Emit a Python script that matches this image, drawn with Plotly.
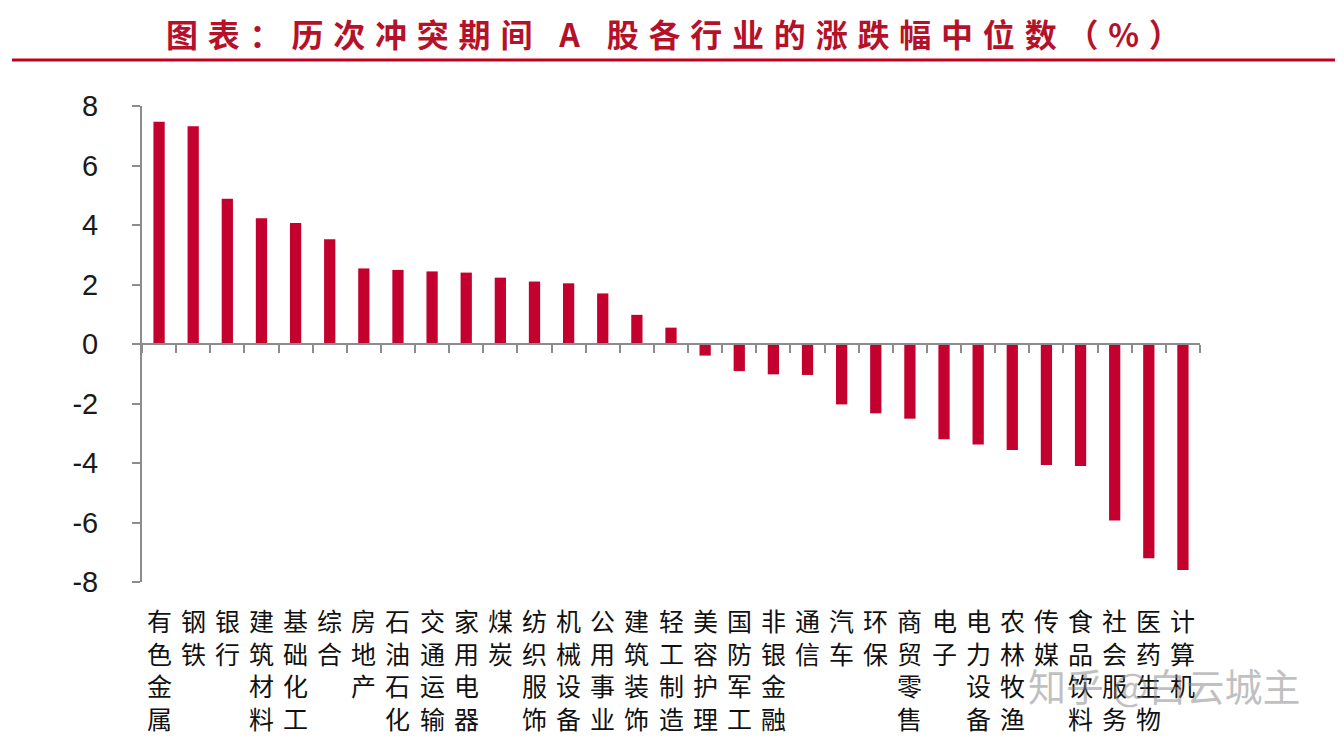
import plotly.graph_objects as go

categories = ["有色金属", "钢铁", "银行", "建筑材料", "基础化工", "综合", "房地产", "石油石化",
              "交通运输", "家用电器", "煤炭", "纺织服饰", "机械设备", "公用事业", "建筑装饰",
              "轻工制造", "美容护理", "国防军工", "非银金融", "通信", "汽车", "环保", "商贸零售",
              "电子", "电力设备", "农林牧渔", "传媒", "食品饮料", "社会服务", "医药生物", "计算机"]
values = [7.47, 7.32, 4.88, 4.23, 4.07, 3.52, 2.54, 2.49, 2.44, 2.40, 2.23, 2.10, 2.04, 1.70,
          0.98, 0.55, -0.39, -0.91, -1.02, -1.04, -2.03, -2.33, -2.51, -3.20, -3.38, -3.56,
          -4.07, -4.10, -5.93, -7.20, -7.60]
y_ticks = [-8, -6, -4, -2, 0, 2, 4, 6, 8]
title_text = "图表：历次冲突期间 <b>A</b> 股各行业的涨跌幅中位数（%）"
watermark = "知乎 @白云城主"

RED = "#C4002F"
AXIS = "#8c8c8c"

# page body has an 8px margin: figure origin sits at screen (8, 8)
OFF = 8
W, H = 1336, 732
ml, mt = 142 - OFF, 106 - OFF
mr = W - (1200 - OFF)
mb = H - (582 - OFF)
plot_w = W - ml - mr
plot_h = H - mt - mb


def px(sx):
    return (sx - OFF - ml) / plot_w


def py(sy):
    return 1 - (sy - OFF - mt) / plot_h


fig = go.Figure()
fig.add_trace(go.Bar(x=categories, y=values, marker=dict(color=RED, line=dict(width=0)),
                     width=0.33, hoverinfo="x+y"))

fig.update_layout(
    width=W, height=H,
    margin=dict(l=ml, r=mr, t=mt, b=mb, pad=0),
    paper_bgcolor="white", plot_bgcolor="white",
    showlegend=False,
    xaxis=dict(
        type="category", anchor="free", position=0.5,
        showline=True, linecolor=AXIS, linewidth=2,
        ticks="outside", tickson="boundaries", ticklen=8, tickwidth=2, tickcolor=AXIS,
        showticklabels=False, showgrid=False, zeroline=False,
    ),
    yaxis=dict(
        range=[-8, 8], tickvals=y_ticks, ticktext=[str(v) for v in y_ticks],
        showline=True, linecolor=AXIS, linewidth=2,
        ticks="outside", ticklen=8, tickwidth=2, tickcolor=AXIS,
        ticklabelstandoff=28,
        tickfont=dict(family="Liberation Sans, Arial", size=29, color="#1a1a1a"),
        showgrid=False, zeroline=False,
    ),
)

for cat in categories:
    fig.add_annotation(
        x=cat, xref="x", y=py(600), yref="paper",
        text="<br>".join(list(cat)), showarrow=False,
        xanchor="center", yanchor="top", align="center",
        font=dict(family="Noto Sans CJK SC", size=25, color="#111111"),
    )

# Title
fig.add_annotation(
    x=px(164), y=py(33), xref="paper", yref="paper",
    text='<span style="letter-spacing:9.8px">' + title_text + '</span>',
    showarrow=False, xanchor="left", yanchor="middle",
    font=dict(family="Noto Sans CJK SC", size=32, color="#B5122A", weight="bold"),
)
# red rule under title
fig.add_shape(type="line", xref="paper", yref="paper",
              x0=px(12), x1=px(1335), y0=py(60), y1=py(60),
              line=dict(color="#C00020", width=3))

# watermark
fig.add_annotation(
    x=px(1026), y=py(684), xref="paper", yref="paper",
    text=watermark, showarrow=False, xanchor="left", yanchor="middle",
    font=dict(family="Noto Sans CJK SC", size=38, color="rgba(130,130,130,0.5)"),
)

fig.write_html("out.html")
